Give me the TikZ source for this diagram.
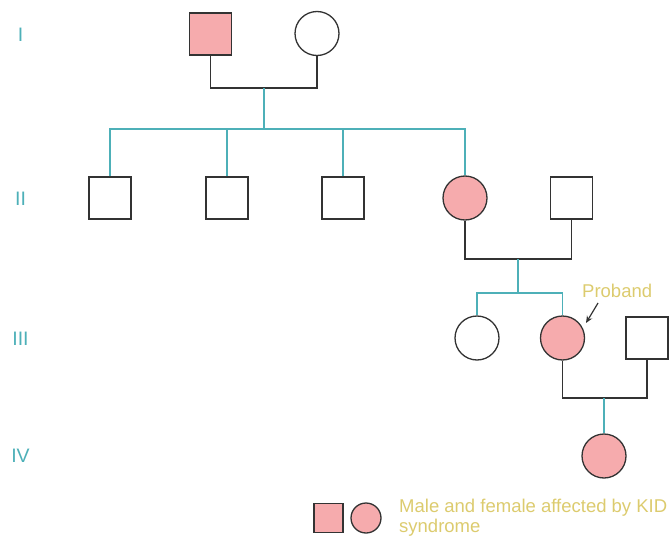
\documentclass[tikz,border=0pt]{standalone}
\usepackage{fontspec}
\usetikzlibrary{arrows.meta}
\setmainfont{Liberation Sans}
\definecolor{tealc}{HTML}{4DB0B8}
\definecolor{pinkc}{HTML}{F6ABAD}
\definecolor{yelc}{HTML}{DCCB6E}
\definecolor{outl}{HTML}{333333}
\begin{document}
\begin{tikzpicture}[x=1pt,y=-1pt,
  male/.style={draw=outl,line width=1.3pt,minimum size=42pt,inner sep=0pt},
  female/.style={circle,draw=outl,line width=1.3pt,minimum size=44pt,inner sep=0pt},
  aff/.style={fill=pinkc},
  mline/.style={draw=outl,line width=1.3pt},
  cline/.style={draw=tealc,line width=1.3pt},
  gen/.style={text=tealc,font=\fontsize{19.5}{22}\selectfont},
  note/.style={text=yelc,font=\fontsize{18.5}{22}\selectfont}]
\useasboundingbox (0,0) rectangle (670,538);
% generation labels
\node[gen] (gI) at (20.5,34.5) {I};
\node[gen] (gII) at (20.5,199) {II};
\node[gen] (gIII) at (20.5,338.5) {III};
\node[gen] (gIV) at (20.5,456) {IV};
% generation I
\node[male,aff] (I1) at (210.5,34) {};
\node[female] (I2) at (317,33.5) {};
\coordinate (m1) at (264,88);
\coordinate (s1) at (264,129);
% generation II
\node[male] (II1) at (110,198) {};
\node[male] (II2) at (227,198) {};
\node[male] (II3) at (343,198) {};
\node[female,aff] (II4) at (465,198) {};
\node[male] (II5) at (571.5,198) {};
\coordinate (m2) at (518,259);
\coordinate (s2) at (518,293);
% generation III
\node[female] (III1) at (477,338) {};
\node[female,aff] (III2) at (562.5,338) {};
\node[male] (III3) at (647,338) {};
\coordinate (m3) at (604,398);
% generation IV
\node[female,aff] (IV1) at (604,456) {};
% connectors
\draw[mline] (I1.south) |- (m1) -| (I2.south);
\draw[cline] (m1) -- (s1);
\draw[cline] (II1.north) |- (s1) -| (II4.north);
\draw[cline] (II2.north) -- (II2.north |- s1);
\draw[cline] (II3.north) -- (II3.north |- s1);
\draw[mline] (II4.south) |- (m2) -| (II5.south);
\draw[cline] (m2) -- (s2);
\draw[cline] (III1.north) |- (s2) -| (III2.north);
\draw[mline] (III2.south) |- (m3) -| (III3.south);
\draw[cline] (m3) -- (IV1.north);
% proband
\node[note,anchor=base west,inner sep=0pt] (pb) at (582,297) {Proband};
\coordinate (pt) at (598,303);
\coordinate (ph) at (586,323);
\draw[outl,line width=1.2pt,-{Stealth[length=7pt,width=6pt]}] (pt) -- (ph);
% legend
\node[male,aff,minimum size=29pt] (L1) at (328.5,518) {};
\node[female,aff,minimum size=30pt] (L2) at (366,518) {};
\node[note,anchor=base west,inner sep=0pt] (lt1) at (399,512) {Male and female affected by KID};
\node[note,anchor=base west,inner sep=0pt] (lt2) at (399,532) {syndrome};
\end{tikzpicture}
\end{document}
